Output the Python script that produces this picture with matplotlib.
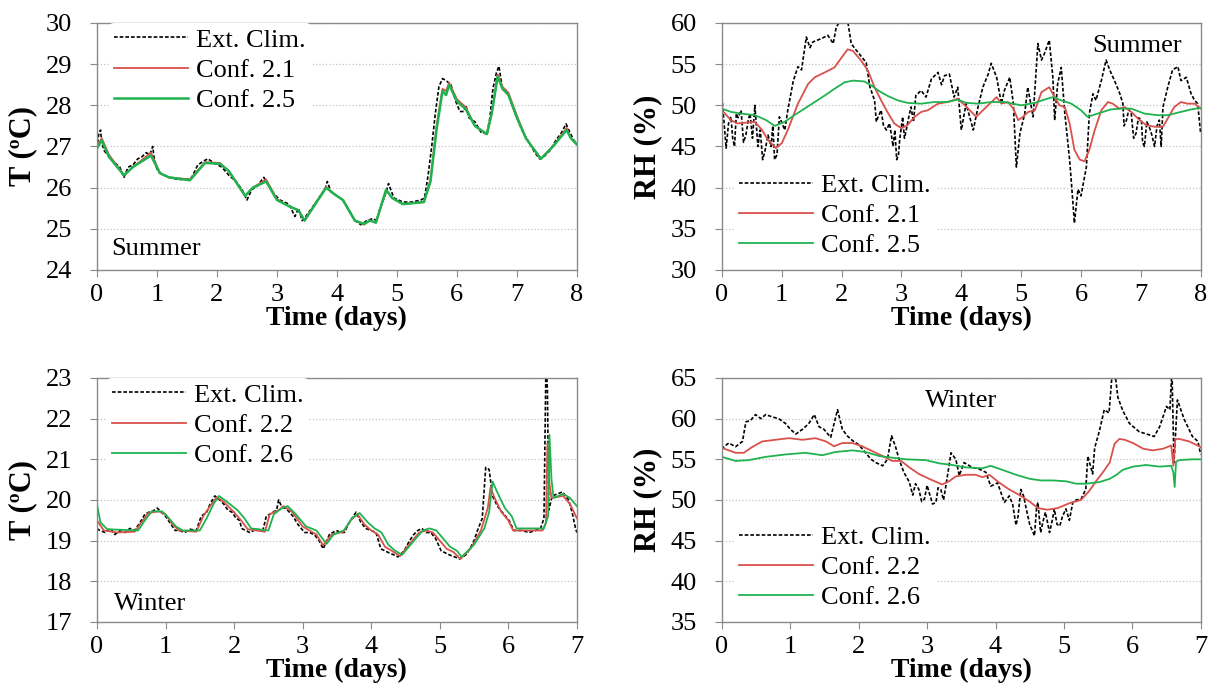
import numpy as np
import matplotlib
matplotlib.use("Agg")
from matplotlib import pyplot as plt

plt.rcParams['font.family'] = ['Liberation Serif', 'DejaVu Serif']

# ---- Summer temperature (days, degC) ----
sum_T_ext = [(0, 26.95), (0.03, 27.3), (0.06, 27.4), (0.08, 27.1), (0.12, 26.9), (0.2, 26.75),
             (0.3, 26.6), (0.38, 26.5), (0.45, 26.25), (0.52, 26.5), (0.6, 26.55), (0.68, 26.7),
             (0.75, 26.75), (0.82, 26.85), (0.88, 26.8), (0.93, 27.0), (0.95, 26.75), (1.0, 26.45),
             (1.06, 26.35), (1.2, 26.25), (1.35, 26.2), (1.5, 26.2), (1.58, 26.25), (1.68, 26.55),
             (1.78, 26.65), (1.85, 26.7), (1.95, 26.6), (2.08, 26.5), (2.2, 26.3), (2.32, 26.15),
             (2.42, 25.95), (2.5, 25.7), (2.58, 25.95), (2.68, 26.05), (2.78, 26.25), (2.85, 26.1),
             (2.95, 25.85), (3.05, 25.7), (3.2, 25.6), (3.3, 25.3), (3.36, 25.5), (3.42, 25.2),
             (3.48, 25.3), (3.58, 25.5), (3.7, 25.75), (3.8, 25.95), (3.84, 26.15), (3.9, 25.9),
             (4.0, 25.8), (4.1, 25.7), (4.2, 25.45), (4.3, 25.2), (4.4, 25.1), (4.5, 25.2),
             (4.6, 25.25), (4.66, 25.2), (4.72, 25.5), (4.8, 25.8), (4.86, 26.1), (4.95, 25.75),
             (5.1, 25.65), (5.25, 25.65), (5.4, 25.7), (5.46, 25.75), (5.52, 26.3), (5.58, 27.0),
             (5.64, 27.8), (5.7, 28.45), (5.76, 28.65), (5.82, 28.6), (5.9, 28.5), (5.98, 28.1),
             (6.05, 27.85), (6.12, 27.85), (6.15, 28.0), (6.2, 27.7), (6.3, 27.6), (6.4, 27.35),
             (6.5, 27.3), (6.55, 27.7), (6.6, 28.4), (6.66, 28.8), (6.7, 28.95), (6.76, 28.4),
             (6.84, 28.35), (6.92, 28.0), (7.0, 27.7), (7.1, 27.35), (7.2, 27.1), (7.3, 26.85),
             (7.38, 26.7), (7.45, 26.75), (7.55, 26.9), (7.65, 27.15), (7.75, 27.35), (7.82, 27.55),
             (7.88, 27.35), (7.95, 27.15), (8.0, 27.05)]
sum_T_c21 = [(0, 27.0), (0.08, 27.2), (0.2, 26.8), (0.45, 26.3), (0.6, 26.5), (0.9, 26.85),
             (1.05, 26.35), (1.2, 26.25), (1.55, 26.2), (1.8, 26.62), (2.05, 26.6), (2.2, 26.4),
             (2.47, 25.8), (2.6, 26.0), (2.82, 26.2), (3.0, 25.72), (3.2, 25.55), (3.36, 25.45),
             (3.46, 25.2), (3.82, 26.02), (3.95, 25.85), (4.1, 25.7), (4.3, 25.2), (4.45, 25.1),
             (4.55, 25.2), (4.65, 25.15), (4.82, 25.95), (4.92, 25.75), (5.1, 25.6), (5.45, 25.65),
             (5.56, 26.2), (5.66, 27.5), (5.76, 28.4), (5.82, 28.35), (5.87, 28.55), (6.0, 28.15),
             (6.15, 27.95), (6.3, 27.5), (6.5, 27.3), (6.58, 27.8), (6.68, 28.75), (6.76, 28.45),
             (6.86, 28.3), (7.0, 27.75), (7.15, 27.2), (7.4, 26.7), (7.6, 27.0), (7.83, 27.45),
             (7.9, 27.2), (8.0, 27.05)]
sum_T_c25 = [(0, 26.95), (0.08, 27.15), (0.2, 26.75), (0.45, 26.3), (0.6, 26.5), (0.9, 26.78),
             (1.05, 26.35), (1.2, 26.25), (1.55, 26.18), (1.8, 26.6), (2.05, 26.58), (2.2, 26.4),
             (2.47, 25.8), (2.6, 26.0), (2.82, 26.15), (3.0, 25.7), (3.2, 25.55), (3.36, 25.45),
             (3.46, 25.2), (3.82, 26.0), (3.95, 25.85), (4.1, 25.7), (4.3, 25.2), (4.45, 25.12),
             (4.55, 25.2), (4.65, 25.15), (4.82, 25.95), (4.92, 25.75), (5.1, 25.6), (5.45, 25.65),
             (5.56, 26.15), (5.66, 27.4), (5.76, 28.35), (5.82, 28.25), (5.87, 28.5), (6.0, 28.1),
             (6.15, 27.9), (6.3, 27.5), (6.5, 27.3), (6.58, 27.8), (6.68, 28.7), (6.76, 28.4),
             (6.86, 28.25), (7.0, 27.7), (7.15, 27.2), (7.4, 26.7), (7.6, 27.0), (7.83, 27.4),
             (7.9, 27.2), (8.0, 27.05)]

# ---- Summer relative humidity (%) ----
sum_RH_ext = [(0, 51.0), (0.04, 47.5), (0.07, 44.8), (0.11, 47.8), (0.15, 48.6), (0.18, 46.0),
              (0.21, 45.0), (0.24, 49.0), (0.27, 48.5), (0.32, 49.4), (0.36, 45.5), (0.4, 46.4),
              (0.44, 48.2), (0.47, 49.0), (0.51, 46.0), (0.55, 50.0), (0.6, 45.0), (0.64, 47.0),
              (0.68, 43.4), (0.72, 44.5), (0.77, 46.4), (0.82, 45.0), (0.85, 47.5), (0.88, 43.4),
              (0.92, 44.0), (0.96, 48.6), (1.05, 47.0), (1.1, 49.4), (1.19, 52.9),
              (1.27, 54.7), (1.33, 54.3), (1.41, 58.3), (1.47, 57.0), (1.52, 57.7), (1.66, 58.1),
              (1.77, 58.5), (1.86, 57.5), (1.91, 59.5), (2.0, 60.5), (2.1, 60.3), (2.16, 57.5),
              (2.21, 57.0), (2.32, 56.0), (2.41, 55.2), (2.47, 52.3), (2.55, 50.6), (2.58, 48.0),
              (2.61, 48.6), (2.66, 49.4), (2.7, 47.5), (2.75, 47.0), (2.8, 47.8), (2.83, 46.5),
              (2.86, 45.0), (2.89, 47.0), (2.92, 43.4), (2.95, 44.0), (2.97, 45.8), (3.0, 47.5),
              (3.02, 48.6), (3.05, 46.0), (3.08, 47.0), (3.12, 48.5), (3.16, 49.8), (3.2, 48.0),
              (3.24, 51.2), (3.33, 51.8), (3.41, 51.0),
              (3.5, 53.2), (3.61, 54.0), (3.67, 52.5), (3.72, 53.6), (3.8, 53.8), (3.88, 51.0),
              (3.94, 52.2), (4.0, 47.0), (4.08, 50.2), (4.2, 47.0), (4.28, 49.8), (4.36, 52.2),
              (4.45, 53.8), (4.5, 55.1), (4.59, 53.4), (4.67, 50.2), (4.72, 51.8), (4.81, 53.4),
              (4.87, 50.2), (4.92, 42.5), (4.98, 46.6), (5.06, 49.0), (5.11, 52.2), (5.2, 48.6),
              (5.28, 57.5), (5.34, 55.5), (5.39, 56.3), (5.47, 57.9), (5.53, 53.4), (5.56, 48.2),
              (5.61, 52.6), (5.67, 54.6), (5.73, 49.0), (5.81, 43.4), (5.84, 40.6), (5.89, 35.7),
              (5.95, 39.8), (6.0, 39.0), (6.09, 42.5), (6.14, 49.0), (6.2, 51.4), (6.25, 50.6),
              (6.34, 53.0), (6.42, 55.5), (6.48, 54.3), (6.56, 53.0), (6.65, 51.4), (6.7, 50.2),
              (6.72, 47.5), (6.76, 48.2), (6.8, 49.5), (6.84, 49.0), (6.88, 46.0), (6.92, 46.6),
              (6.96, 48.5), (7.01, 48.2), (7.03, 45.5), (7.06, 45.0), (7.1, 48.0), (7.14, 47.4),
              (7.18, 46.5), (7.23, 45.0), (7.27, 47.5), (7.31, 48.2), (7.34, 45.0), (7.37, 49.8),
              (7.45, 52.2), (7.53, 54.3), (7.62, 54.7),
              (7.67, 53.0), (7.76, 53.4), (7.84, 51.4), (7.9, 50.6), (7.95, 50.2), (8.0, 46.6)]
sum_RH_c21 = [(0, 49.4), (0.15, 48.2), (0.26, 47.8), (0.55, 48.0), (0.67, 47.0), (0.77, 45.8),
              (0.9, 44.8), (1.0, 45.4), (1.1, 47.0), (1.27, 50.2), (1.44, 52.6), (1.55, 53.4),
              (1.72, 54.0), (1.88, 54.6), (2.0, 55.8), (2.1, 56.8), (2.19, 56.6), (2.33, 55.4),
              (2.44, 54.2), (2.55, 52.2), (2.66, 50.6), (2.78, 49.0), (2.88, 47.8), (3.0, 47.2),
              (3.1, 47.6), (3.22, 48.6), (3.33, 49.2), (3.44, 49.4), (3.61, 50.2), (3.77, 50.4),
              (3.94, 50.8), (4.06, 50.0), (4.17, 49.2), (4.25, 48.6), (4.39, 49.6), (4.59, 51.0),
              (4.67, 50.2), (4.78, 50.4), (4.87, 49.6), (4.95, 48.2), (5.03, 48.6), (5.12, 49.2),
              (5.23, 49.4), (5.34, 51.6), (5.47, 52.2), (5.56, 51.0), (5.64, 50.0), (5.73, 49.8),
              (5.81, 47.8), (5.89, 44.6), (5.98, 43.4), (6.06, 43.2), (6.14, 44.6), (6.23, 47.0),
              (6.34, 49.4), (6.45, 50.4), (6.53, 50.2), (6.64, 49.6), (6.73, 49.8), (6.84, 49.2),
              (6.98, 48.2), (7.09, 47.6), (7.23, 47.4), (7.37, 47.4), (7.45, 48.4), (7.56, 49.8),
              (7.67, 50.4), (7.78, 50.2), (7.9, 50.2), (8.0, 49.6)]
sum_RH_c25 = [(0, 49.6), (0.15, 49.2), (0.32, 49.0), (0.55, 48.8), (0.74, 48.2), (0.88, 47.5),
              (1.05, 48.0), (1.21, 48.8), (1.38, 49.6), (1.55, 50.4), (1.72, 51.2), (1.88, 52.0),
              (2.05, 52.8), (2.19, 53.0), (2.38, 52.9), (2.5, 52.4), (2.61, 51.8), (2.78, 51.1),
              (2.94, 50.6), (3.1, 50.3), (3.33, 50.2), (3.55, 50.4), (3.77, 50.4), (3.94, 50.7),
              (4.08, 50.3), (4.28, 50.2), (4.5, 50.4), (4.72, 50.4), (5.0, 50.0), (5.23, 50.3),
              (5.39, 50.7), (5.53, 51.0), (5.67, 50.6), (5.84, 50.2), (6.0, 49.4), (6.11, 48.6),
              (6.28, 49.0), (6.5, 49.5), (6.67, 49.6), (6.84, 49.6), (7.06, 49.0), (7.28, 48.8),
              (7.45, 48.8), (7.67, 49.2), (7.84, 49.5), (8.0, 49.7)]

# ---- Winter temperature (degC) ----
win_T_ext = [(0, 19.3), (0.04, 19.25), (0.12, 19.2), (0.2, 19.3), (0.26, 19.15), (0.34, 19.25),
             (0.41, 19.2), (0.48, 19.3), (0.55, 19.25), (0.63, 19.45), (0.7, 19.65), (0.76, 19.7),
             (0.82, 19.73), (0.88, 19.8), (0.94, 19.7), (1.0, 19.6), (1.06, 19.45), (1.14, 19.25),
             (1.2, 19.25), (1.28, 19.2), (1.36, 19.28), (1.45, 19.25), (1.52, 19.6), (1.6, 19.7),
             (1.65, 19.9), (1.72, 20.1), (1.79, 20.0), (1.85, 19.9), (1.91, 19.75), (1.97, 19.7),
             (2.03, 19.55), (2.08, 19.5), (2.11, 19.3), (2.17, 19.25), (2.23, 19.2), (2.32, 19.28),
             (2.42, 19.25), (2.47, 19.6), (2.57, 19.7), (2.62, 19.75), (2.65, 20.0), (2.69, 19.85),
             (2.78, 19.75), (2.86, 19.6), (2.93, 19.4), (3.03, 19.2), (3.1, 19.2), (3.17, 19.15),
             (3.24, 19.0), (3.3, 18.8), (3.39, 19.15), (3.49, 19.25), (3.56, 19.2), (3.61, 19.2),
             (3.68, 19.45), (3.74, 19.6), (3.78, 19.7), (3.85, 19.45), (3.92, 19.3), (4.0, 19.25),
             (4.07, 19.2), (4.14, 18.8), (4.2, 18.75), (4.26, 18.7), (4.33, 18.65), (4.39, 18.6),
             (4.48, 18.75), (4.56, 19.0), (4.62, 19.15), (4.68, 19.25), (4.74, 19.3), (4.8, 19.2),
             (4.87, 19.2), (4.94, 19.05), (5.02, 18.75), (5.08, 18.7), (5.14, 18.65), (5.22, 18.6),
             (5.29, 18.55), (5.38, 18.65), (5.44, 18.8), (5.5, 19.0), (5.55, 19.25), (5.62, 19.55),
             (5.67, 20.8), (5.72, 20.75), (5.77, 20.1), (5.84, 19.85), (5.91, 19.7), (6.01, 19.5),
             (6.08, 19.25), (6.2, 19.25), (6.3, 19.2), (6.4, 19.25), (6.47, 19.3), (6.52, 19.55),
             (6.55, 23.5), (6.57, 22.7), (6.59, 19.75), (6.64, 20.1), (6.72, 20.15), (6.79, 20.2),
             (6.88, 20.0), (6.93, 19.7), (6.98, 19.3), (7.0, 19.2)]
win_T_c22 = [(0, 19.5), (0.1, 19.25), (0.3, 19.2), (0.55, 19.22), (0.65, 19.45), (0.75, 19.68),
             (0.9, 19.72), (1.0, 19.65), (1.1, 19.4), (1.2, 19.25), (1.45, 19.22), (1.55, 19.6),
             (1.65, 19.85), (1.75, 20.07), (1.85, 19.95), (2.0, 19.7), (2.1, 19.5), (2.2, 19.28),
             (2.45, 19.22), (2.52, 19.65), (2.65, 19.75), (2.72, 19.85), (2.85, 19.7), (3.0, 19.35),
             (3.1, 19.25), (3.2, 19.15), (3.3, 18.88), (3.42, 19.15), (3.6, 19.22), (3.7, 19.5),
             (3.8, 19.65), (3.9, 19.4), (4.0, 19.25), (4.1, 19.15), (4.2, 18.85), (4.3, 18.75),
             (4.42, 18.62), (4.55, 18.9), (4.7, 19.2), (4.8, 19.25), (4.9, 19.2), (5.0, 19.0),
             (5.1, 18.8), (5.2, 18.72), (5.3, 18.55), (5.45, 18.8), (5.6, 19.25), (5.7, 19.8),
             (5.74, 20.3), (5.8, 20.05), (5.9, 19.7), (6.0, 19.5), (6.07, 19.25), (6.5, 19.25),
             (6.55, 19.45), (6.57, 21.4), (6.6, 20.4), (6.63, 20.05), (6.8, 20.1), (6.9, 19.9),
             (7.0, 19.55)]
win_T_c26 = [(0, 19.9), (0.05, 19.45), (0.15, 19.28), (0.6, 19.25), (0.7, 19.5), (0.8, 19.72),
             (0.95, 19.72), (1.05, 19.55), (1.15, 19.35), (1.25, 19.25), (1.5, 19.25), (1.6, 19.55),
             (1.7, 19.9), (1.78, 20.1), (1.9, 19.95), (2.05, 19.75), (2.15, 19.55), (2.25, 19.3),
             (2.5, 19.25), (2.58, 19.65), (2.7, 19.8), (2.78, 19.85), (2.9, 19.65), (3.05, 19.35),
             (3.2, 19.25), (3.35, 18.92), (3.45, 19.15), (3.6, 19.25), (3.72, 19.55), (3.83, 19.68),
             (3.95, 19.45), (4.05, 19.3), (4.15, 19.2), (4.25, 18.9), (4.35, 18.75), (4.45, 18.65),
             (4.6, 18.95), (4.75, 19.25), (4.85, 19.3), (4.95, 19.25), (5.05, 19.05), (5.15, 18.85),
             (5.25, 18.75), (5.32, 18.6), (5.5, 18.9), (5.65, 19.3), (5.72, 19.7), (5.77, 20.45),
             (5.85, 20.15), (5.95, 19.8), (6.05, 19.6), (6.12, 19.3), (6.52, 19.3), (6.58, 19.6),
             (6.6, 21.6), (6.63, 20.5), (6.66, 20.05), (6.8, 20.15), (6.9, 20.05), (7.0, 19.85)]

# ---- Winter relative humidity (%) ----
win_RH_ext = [(0, 56.2), (0.03, 56.55), (0.1, 57.0), (0.2, 56.55), (0.3, 57.2), (0.35, 59.6),
              (0.42, 59.8), (0.49, 60.5), (0.57, 60.0), (0.64, 60.5), (0.74, 60.2), (0.83, 60.0),
              (0.93, 59.4), (1.0, 58.7), (1.08, 58.1), (1.18, 58.7), (1.27, 59.4), (1.35, 60.5),
              (1.42, 59.0), (1.49, 58.7), (1.59, 57.7), (1.69, 61.1), (1.76, 58.7), (1.83, 57.9),
              (1.91, 57.3), (2.0, 56.8), (2.1, 55.8), (2.18, 55.0), (2.25, 54.6), (2.35, 54.2),
              (2.42, 55.0), (2.48, 57.9), (2.54, 56.5), (2.59, 55.0), (2.66, 53.4), (2.74, 52.2),
              (2.79, 50.6), (2.83, 52.0), (2.88, 51.3), (2.92, 49.8), (2.96, 50.1), (3.0, 51.8),
              (3.03, 50.9), (3.08, 49.5), (3.13, 49.7), (3.16, 51.5), (3.2, 51.3), (3.24, 50.0),
              (3.27, 51.5), (3.35, 55.8), (3.42, 55.0), (3.47, 53.0), (3.54, 54.6), (3.66, 54.0),
              (3.76, 53.8), (3.86, 53.4), (3.93, 51.7), (4.03, 52.1), (4.13, 49.7), (4.2, 50.5),
              (4.25, 49.5), (4.3, 46.9), (4.33, 48.0), (4.37, 51.3), (4.41, 50.5), (4.45, 48.9),
              (4.5, 47.0), (4.57, 45.6), (4.6, 49.0), (4.62, 49.7), (4.66, 46.0), (4.69, 47.2),
              (4.73, 48.5), (4.79, 46.0), (4.83, 47.5), (4.86, 48.9), (4.9, 47.0), (4.94, 46.8),
              (4.98, 48.0), (5.03, 48.9), (5.08, 47.5), (5.13, 49.7), (5.18, 50.0), (5.25, 50.1),
              (5.32, 51.3), (5.35, 55.4), (5.42, 53.2), (5.45, 56.4), (5.52, 58.5), (5.59, 61.1),
              (5.66, 60.7), (5.71, 66.0), (5.76, 64.7), (5.79, 62.6), (5.86, 61.0), (5.96, 59.4),
              (6.1, 58.4), (6.25, 58.0), (6.32, 57.8), (6.4, 59.0), (6.5, 61.5), (6.55, 61.1),
              (6.58, 66.0), (6.61, 54.6), (6.66, 62.3), (6.76, 59.9), (6.88, 57.8), (6.96, 57.2),
              (7.0, 55.6)]
win_RH_c22 = [(0, 56.4), (0.2, 55.8), (0.32, 55.8), (0.44, 56.5), (0.59, 57.2), (0.78, 57.4),
              (0.98, 57.6), (1.18, 57.4), (1.37, 57.6), (1.52, 57.2), (1.64, 56.6), (1.76, 57.0),
              (1.91, 57.0), (2.05, 56.6), (2.2, 56.0), (2.35, 55.4), (2.49, 54.8), (2.62, 54.8),
              (2.74, 54.0), (2.88, 53.2), (3.03, 52.6), (3.22, 51.9), (3.32, 52.3), (3.42, 52.9),
              (3.57, 53.1), (3.71, 53.1), (3.81, 52.8), (3.91, 53.1), (4.06, 52.1), (4.2, 51.3),
              (4.35, 50.6), (4.5, 49.8), (4.62, 49.0), (4.76, 48.8), (4.91, 49.0), (5.08, 49.6),
              (5.25, 50.0), (5.37, 51.1), (5.47, 52.3), (5.57, 53.4), (5.67, 54.6), (5.74, 56.9),
              (5.81, 57.5), (5.89, 57.4), (6.01, 57.0), (6.16, 56.3), (6.3, 56.1), (6.45, 56.3),
              (6.57, 56.7), (6.6, 54.2), (6.63, 57.5), (6.69, 57.5), (6.83, 57.2), (6.98, 56.6),
              (7.0, 56.5)]
win_RH_c26 = [(0, 55.3), (0.2, 54.8), (0.39, 54.9), (0.64, 55.3), (0.93, 55.6), (1.22, 55.8),
              (1.47, 55.5), (1.66, 55.9), (1.91, 56.1), (2.1, 55.9), (2.3, 55.4), (2.49, 55.2),
              (2.69, 55.0), (2.98, 54.9), (3.18, 54.5), (3.37, 54.3), (3.57, 54.0), (3.81, 53.9),
              (3.93, 54.2), (4.1, 53.7), (4.3, 53.1), (4.5, 52.6), (4.67, 52.4), (4.84, 52.4),
              (5.03, 52.3), (5.18, 52.0), (5.32, 52.0), (5.52, 52.2), (5.67, 52.6), (5.77, 53.1),
              (5.86, 53.7), (6.01, 54.1), (6.2, 54.3), (6.4, 54.1), (6.57, 54.2), (6.6, 53.4),
              (6.62, 51.6), (6.64, 54.7), (6.69, 54.9), (6.88, 55.0), (7.0, 55.0)]

RED = '#d9514c'
GREEN = '#1fb34f'
SPINE = '#8a8a8a'
FS = 19

fig = plt.figure(figsize=(12.15, 6.9), dpi=100)
ax1 = fig.add_axes([0.0798, 0.6087, 0.395, 0.358])
ax2 = fig.add_axes([0.5942, 0.6087, 0.394, 0.358])
ax3 = fig.add_axes([0.0798, 0.0986, 0.395, 0.3536])
ax4 = fig.add_axes([0.5942, 0.0986, 0.394, 0.3536])


def draw(ax, ext, c1, c2, names, green_lw):
    t, v = np.array(sorted(ext)).T
    ax.plot(t, v, color='black', lw=1.2, ls=(0, (2.2, 1.2)), label='Ext. Clim.')
    t, v = np.array(c1).T
    ax.plot(t, v, color=RED, lw=1.3, label=names[0])
    t, v = np.array(c2).T
    ax.plot(t, v, color=GREEN, lw=green_lw, label=names[1])


def style(ax, xmax, ylim, ystep, ylabel):
    ax.set_xlim(0, xmax)
    ax.set_ylim(*ylim)
    ax.set_xticks(range(0, xmax + 1))
    ax.set_yticks(np.arange(ylim[0], ylim[1] + 0.1, ystep))
    ax.yaxis.grid(True, color='#c4c4c4', ls=':', lw=0.9)
    ax.set_axisbelow(True)
    for s in ax.spines.values():
        s.set_color(SPINE)
        s.set_linewidth(1.0)
    ax.tick_params(axis='both', labelsize=FS, color=SPINE, direction='out')
    ax.tick_params(axis='y', length=5, pad=13)
    ax.tick_params(axis='x', length=5, pad=5)
    ax.set_xlabel('Time (days)', fontsize=20, fontweight='bold', labelpad=0)
    ax.set_ylabel(ylabel, fontsize=22, fontweight='bold', labelpad=6)


def legend(ax, loc, anchor):
    leg = ax.legend(loc=loc, bbox_to_anchor=anchor, fontsize=FS, frameon=True,
                    facecolor='white', edgecolor='white', framealpha=1,
                    handlelength=2.8, handletextpad=0.3, labelspacing=0.25,
                    borderpad=0.2, borderaxespad=0.0)
    leg.get_frame().set_linewidth(0)


draw(ax1, sum_T_ext, sum_T_c21, sum_T_c25, ['Conf. 2.1', 'Conf. 2.5'], 1.8)
style(ax1, 8, (24, 30), 1, 'T (ºC)')
legend(ax1, 'upper left', (0.025, 1.0))
ax1.text(0.03, 0.04, 'Summer', transform=ax1.transAxes, fontsize=FS, va='bottom', ha='left')

draw(ax2, sum_RH_ext, sum_RH_c21, sum_RH_c25, ['Conf. 2.1', 'Conf. 2.5'], 1.3)
style(ax2, 8, (30, 60), 5, 'RH (%)')
legend(ax2, 'lower left', (0.025, 0.03))
ax2.text(0.96, 0.95, 'Summer', transform=ax2.transAxes, fontsize=FS, va='top', ha='right')

draw(ax3, win_T_ext, win_T_c22, win_T_c26, ['Conf. 2.2', 'Conf. 2.6'], 1.3)
style(ax3, 7, (17, 23), 1, 'T (ºC)')
legend(ax3, 'upper left', (0.02, 1.0))
ax3.text(0.035, 0.03, 'Winter', transform=ax3.transAxes, fontsize=FS, va='bottom', ha='left')

draw(ax4, win_RH_ext, win_RH_c22, win_RH_c26, ['Conf. 2.2', 'Conf. 2.6'], 1.3)
style(ax4, 7, (35, 65), 5, 'RH (%)')
legend(ax4, 'lower left', (0.025, 0.03))
ax4.text(0.50, 0.95, 'Winter', transform=ax4.transAxes, fontsize=FS, va='top', ha='center')

fig.savefig('out.png', dpi=100)
